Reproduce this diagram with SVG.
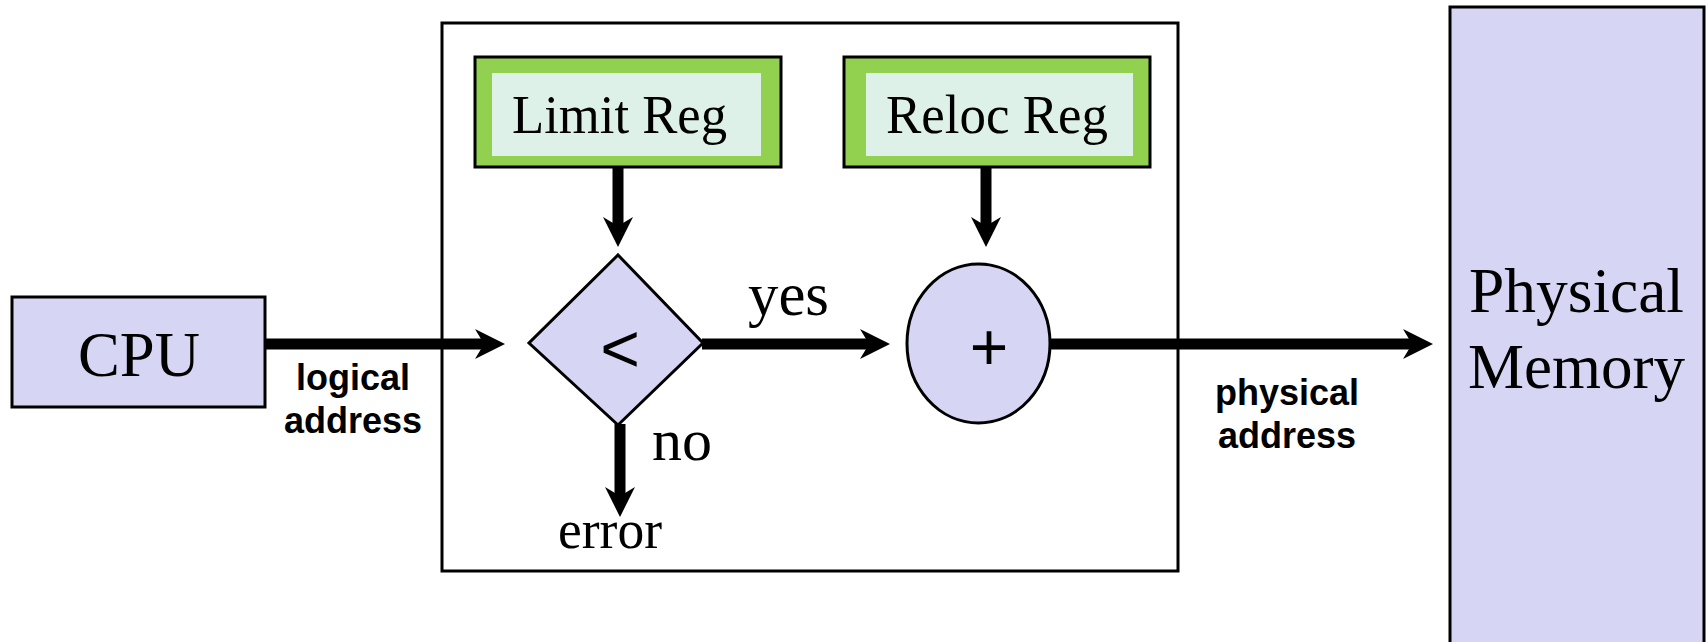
<svg xmlns="http://www.w3.org/2000/svg" width="1707" height="642" viewBox="0 0 1707 642">
  <style>
    .node { fill: #d6d6f4; stroke: #000; stroke-width: 3; }
    .frame { fill: none; stroke: #000; stroke-width: 3; }
    .reg-outer { fill: #92d050; stroke: #000; stroke-width: 3; }
    .reg-inner { fill: #ddf1e9; stroke: none; }
    .serif { font-family: "Liberation Serif", "Times New Roman", serif; fill: #000; }
    .sans { font-family: "Liberation Sans", Arial, sans-serif; fill: #000; }
    .label { font-family: "Liberation Sans", Arial, sans-serif; font-weight: bold; font-size: 36px; fill: #000; }
    .wire { stroke: #000; stroke-width: 11; fill: none; }
  </style>
  <defs>
    <marker id="head" markerUnits="userSpaceOnUse" markerWidth="32" markerHeight="32" refX="10" refY="15" orient="auto">
      <path d="M0,0 L30,15 L0,30 L9,15 Z" fill="#000"/>
    </marker>
  </defs>

  <rect width="1707" height="642" fill="#fff"/>

  <!-- enclosing hardware frame -->
  <g id="mmu-frame">
    <rect class="frame" x="442" y="23" width="736" height="548"/>
  </g>

  <g id="cpu">
    <rect class="node" x="12" y="297" width="253" height="110"/>
    <text class="serif" x="139" y="376" font-size="64" text-anchor="middle" textLength="122" lengthAdjust="spacingAndGlyphs">CPU</text>
  </g>

  <g id="limit-reg">
    <rect class="reg-outer" x="475" y="57" width="306" height="110"/>
    <rect class="reg-inner" x="492" y="73" width="269" height="83"/>
    <text class="serif" x="619.5" y="133" font-size="54" text-anchor="middle" textLength="215" lengthAdjust="spacingAndGlyphs">Limit Reg</text>
  </g>

  <g id="reloc-reg">
    <rect class="reg-outer" x="844" y="57" width="306" height="110"/>
    <rect class="reg-inner" x="866" y="73" width="267" height="83"/>
    <text class="serif" x="997" y="133" font-size="54" text-anchor="middle" textLength="222" lengthAdjust="spacingAndGlyphs">Reloc Reg</text>
  </g>

  <g id="compare">
    <polygon class="node" stroke-width="2.5" points="618,255 703,343 618,425 529,343"/>
    <text class="sans" x="620" y="372" font-size="68" text-anchor="middle">&lt;</text>
  </g>

  <g id="adder">
    <ellipse class="node" stroke-width="2.5" cx="978.5" cy="343.5" rx="71.5" ry="79.5"/>
    <text class="sans" x="989" y="370" font-size="66" text-anchor="middle">+</text>
  </g>

  <g id="physical-memory">
    <rect class="node" stroke-width="2.5" x="1450" y="7" width="254" height="660"/>
    <text class="serif" x="1576.5" y="312" font-size="64" text-anchor="middle" textLength="215" lengthAdjust="spacingAndGlyphs">Physical</text>
    <text class="serif" x="1576.5" y="388" font-size="64" text-anchor="middle" textLength="217" lengthAdjust="spacingAndGlyphs">Memory</text>
  </g>

  <g id="connectors">
    <line class="wire" x1="265" y1="344" x2="485" y2="344" marker-end="url(#head)"/>
    <line class="wire" x1="618" y1="167" x2="618" y2="227" marker-end="url(#head)"/>
    <line class="wire" x1="986" y1="167" x2="986" y2="227" marker-end="url(#head)"/>
    <line class="wire" x1="702" y1="344" x2="870" y2="344" marker-end="url(#head)"/>
    <line class="wire" x1="1050" y1="344" x2="1413" y2="344" marker-end="url(#head)"/>
    <line class="wire" x1="620" y1="424" x2="620" y2="497" marker-end="url(#head)"/>
  </g>

  <g id="edge-labels">
    <text class="label" x="353" y="390" text-anchor="middle">logical</text>
    <text class="label" x="353" y="433" text-anchor="middle">address</text>
    <text class="label" x="1287" y="405" text-anchor="middle">physical</text>
    <text class="label" x="1287" y="448" text-anchor="middle">address</text>
    <text class="serif" x="788.5" y="315" font-size="61" text-anchor="middle" textLength="81" lengthAdjust="spacingAndGlyphs">yes</text>
    <text class="serif" x="682" y="460" font-size="60" text-anchor="middle">no</text>
    <text class="serif" x="610" y="548" font-size="54" text-anchor="middle" textLength="104" lengthAdjust="spacingAndGlyphs">error</text>
  </g>
</svg>
